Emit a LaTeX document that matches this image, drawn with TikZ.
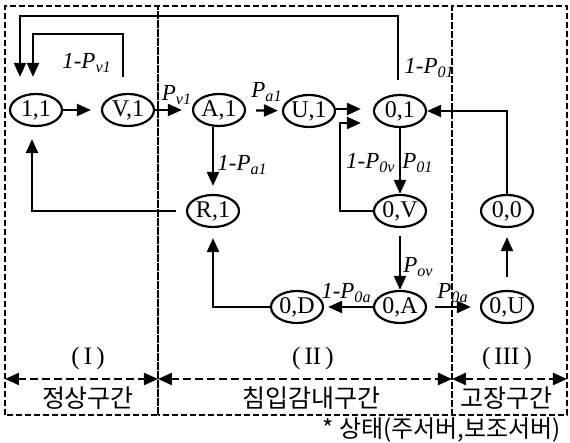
\documentclass[tikz,border=0pt]{standalone}
\usepackage{fontspec}
\setmainfont{Liberation Serif}
\newfontfamily\kofont{Noto Sans CJK KR}
\usepackage{tikz}
\usetikzlibrary{calc,arrows.meta,positioning,shapes.geometric}
\definecolor{lineBlack}{RGB}{0,0,0}
\tikzset{
  state/.style={draw=lineBlack, ellipse, line width=1.1pt, minimum width=26pt, minimum height=16pt,
    inner sep=0pt, fill=white, text height=8pt, text depth=1.5pt, font=\fontsize{12}{14}\selectfont},
  arr/.style={-{Triangle[length=7pt,width=6pt]}, line width=1.1pt, lineBlack},
  lab/.style={font=\itshape\fontsize{11.5}{13}\selectfont, inner sep=0pt},
  zone/.style={dash pattern=on 3pt off 1.5pt, line width=0.9pt, lineBlack},
  zonearr/.style={{Triangle[length=7pt,width=6pt]}-{Triangle[length=7pt,width=6pt]}, dash pattern=on 4pt off 2pt, line width=1.1pt, lineBlack},
  ko/.style={font=\kofont\fontsize{12.5}{14}\selectfont},
}

\begin{document}
\begin{tikzpicture}[x=0.5pt,y=0.5pt]
    \useasboundingbox (0,0) rectangle (570,443);

    % zones
    \draw[zone] (5,28) rectangle (158,437);
    \draw[zone] (158,28) rectangle (452,437);
    \draw[zone] (452,28) rectangle (567,437);

    % states
    \node[state] (n11) at (36,333) {1,1};
    \node[state] (nV1) at (128,333) {V,1};
    \node[state] (nA1) at (219,333) {A,1};
    \node[state] (nU1) at (309,332) {U,1};
    \node[state] (n01) at (400,332) {0,1};
    \node[state] (nR1) at (213,232) {R,1};
    \node[state] (n0V) at (400,232) {0,V};
    \node[state] (n00) at (507,232) {0,0};
    \node[state] (n0D) at (297,136) {0,D};
    \node[state] (n0A) at (400,136) {0,A};
    \node[state] (n0U) at (507,136) {0,U};

    \coordinate (topA) at (200,427);
    \coordinate (topB) at (80,409);
    \coordinate (c1) at (340,320);

    % transitions
    \draw[arr, shorten >=5pt] (n11) -- (nV1);
    \draw[arr, shorten >=5pt] (nV1) -- (nA1);
    \draw[arr, shorten <=5pt, shorten >=2pt] (nA1) -- (nU1);
    \draw[arr, shorten >=6pt] ([yshift=1pt]nU1.east) -- ([yshift=1pt]n01.west);
    \draw[arr, shorten >=6pt] (n0V.west) -| (c1) -- (c1 -| n01.west);
    \draw[arr] (n01) -- (n0V);
    \draw[arr, shorten >=4pt] (nA1.south -| nR1.north) -- (nR1.north);
    \draw[arr, shorten <=5pt, shorten >=6pt] (nR1.west) -| ([xshift=-2pt]n11.south);
    \draw[arr, shorten >=5pt] (n0D.west) -| (nR1.south);
    \draw[arr, shorten >=2pt] (n0A) -- (n0D);
    \draw[arr, shorten <=4pt] (n0V) -- (n0A);
    \draw[arr, shorten <=4pt, shorten >=4.5pt] (n0A) -- (n0U);
    \draw[arr, shorten <=6.5pt, shorten >=4.5pt] (n0U) -- (n00);
    \draw[arr] (n00.north) |- (n01.east);
    \draw[arr, shorten <=7pt, shorten >=8pt] ([xshift=-1pt]n01.north) |- (topA) -| ([xshift=-8pt]n11.north);
    \draw[arr, shorten <=8pt, shorten >=8pt] ([xshift=-2.5pt]nV1.north) |- (topB) -| ([xshift=-1.5pt]n11.north);

    % labels
    \node[lab] (lV1loop) at (87,380) {1-P\textsubscript{v1}};
    \node[lab, anchor=west] (l01loop) at (404,375) {1-P\textsubscript{01}};
    \node[lab] (lPv1) at (177,348) {P\textsubscript{v1}};
    \node[lab] (lPa1) at (267,351) {P\textsubscript{a1}};
    \node[lab, anchor=west] (lRa1) at (217,278) {1-P\textsubscript{a1}};
    \node[lab, anchor=east] (l0v) at (396,280) {1-P\textsubscript{0v}};
    \node[lab, anchor=west] (lP01) at (402,280) {P\textsubscript{01}};
    \node[lab, anchor=west] (lPov) at (403,176) {P\textsubscript{ov}};
    \node[lab, anchor=east] (l0a) at (372,150) {1-P\textsubscript{0a}};
    \node[lab] (lP0a) at (453,150) {P\textsubscript{0a}};

    % zone marks
    \coordinate (b0) at (5,64);
    \coordinate (b1) at (158,64);
    \coordinate (b2) at (452,64);
    \coordinate (b3) at (567,64);
    \draw[zonearr] (b0) -- (b1);
    \draw[zonearr] (b1) -- (b2);
    \draw[zonearr] (b2) -- (b3);

    \node[font=\fontsize{12.5}{14}\selectfont] (zI) at (88,84) {(\,I\,)};
    \node[font=\fontsize{12.5}{14}\selectfont] (zII) at (313,84) {(\,II\,)};
    \node[font=\fontsize{12.5}{14}\selectfont] (zIII) at (507,84) {(\,III\,)};
    \node[ko] (kI) at (88,45) {정상구간};
    \node[ko] (kII) at (312,45) {침입감내구간};
    \node[ko] (kIII) at (507,45) {고장구간};
    \node[ko, anchor=east, font=\kofont\fontsize{12}{14}\selectfont] (note) at (568,13) {* 상태(주서버,보조서버)};
\end{tikzpicture}
\end{document}
